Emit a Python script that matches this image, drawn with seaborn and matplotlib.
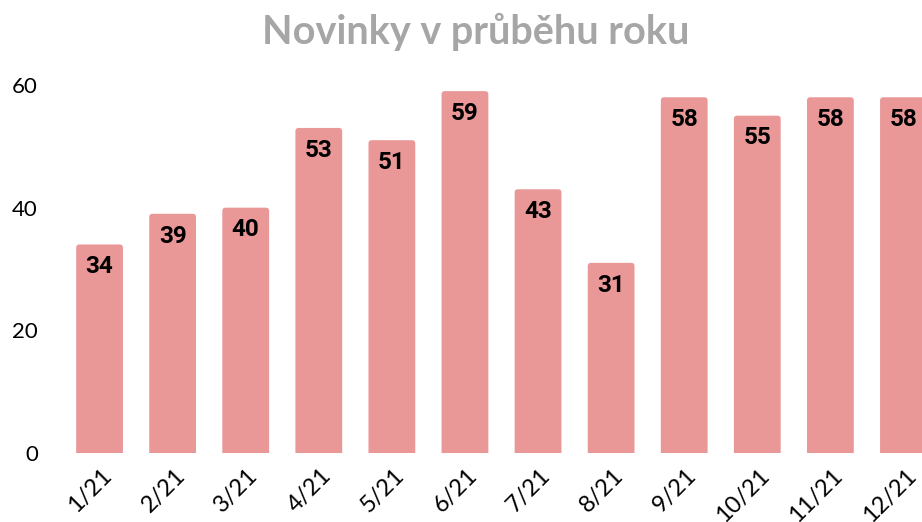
import matplotlib
matplotlib.use("Agg")
import matplotlib.pyplot as plt
import matplotlib.transforms as mtransforms
from matplotlib.patches import FancyBboxPatch
import seaborn as sns
import pandas as pd

sns.set_style("white")
plt.rcParams["font.family"] = ["Lato", "DejaVu Sans"]

# data
months = ["1/21", "2/21", "3/21", "4/21", "5/21", "6/21",
          "7/21", "8/21", "9/21", "10/21", "11/21", "12/21"]
novinky = [34, 39, 40, 53, 51, 59, 43, 31, 58, 55, 58, 58]

df = pd.DataFrame({"mesic": months, "pocet": novinky})

BAR_COLOR = "#E99797"

fig = plt.figure(figsize=(9.22, 5.22), dpi=100)
# axes runs a bit past the right edge, like the original screenshot
ax = fig.add_axes([63 / 922, 69 / 522, 877 / 922, 368 / 522])

sns.barplot(data=df, x="mesic", y="pocet", color=BAR_COLOR, saturation=1,
            width=0.64, ax=ax)

ax.set_ylim(0, 60)
ax.set_yticks([0, 20, 40, 60])
ax.set_xlim(-0.5, 11.5)
ax.set_xlabel("")
ax.set_ylabel("")
sns.despine(ax=ax, left=True, bottom=True)
ax.tick_params(axis="both", length=0, labelsize=16, colors="black")
ax.tick_params(axis="x", labelsize=17)
ax.tick_params(axis="y", pad=18)

# slightly rounded bar tops
aspect = (60 / 368) / (1 / 73.1)
for bar in list(ax.patches):
    x, w, h = bar.get_x(), bar.get_width(), bar.get_height()
    rb = FancyBboxPatch((x, -1), w, h + 1,
                        boxstyle="round,pad=0,rounding_size=0.045",
                        mutation_aspect=aspect, facecolor=BAR_COLOR,
                        edgecolor="none")
    bar.set_visible(False)
    ax.add_patch(rb)

# rotated month labels
offset = mtransforms.ScaledTranslation(6.5 / 72, -10.5 / 72, fig.dpi_scale_trans)
for lab in ax.get_xticklabels():
    lab.set_rotation(45)
    lab.set_ha("right")
    lab.set_va("center")
    lab.set_rotation_mode("anchor")
    lab.set_transform(lab.get_transform() + offset)

# value labels inside the bars
for i, v in enumerate(novinky):
    ax.annotate(str(v), (i, v), xytext=(0, -16), textcoords="offset points",
                ha="center", va="center", fontsize=17.5, fontweight="bold",
                family=["Roboto", "DejaVu Sans"], color="black")

fig.text(476 / 922, 1 - 32 / 522, "Novinky v průběhu roku", ha="center",
         va="center", fontsize=28.5, fontweight="bold", color="#A6A6A6")

fig.savefig("out.png", dpi=100)
